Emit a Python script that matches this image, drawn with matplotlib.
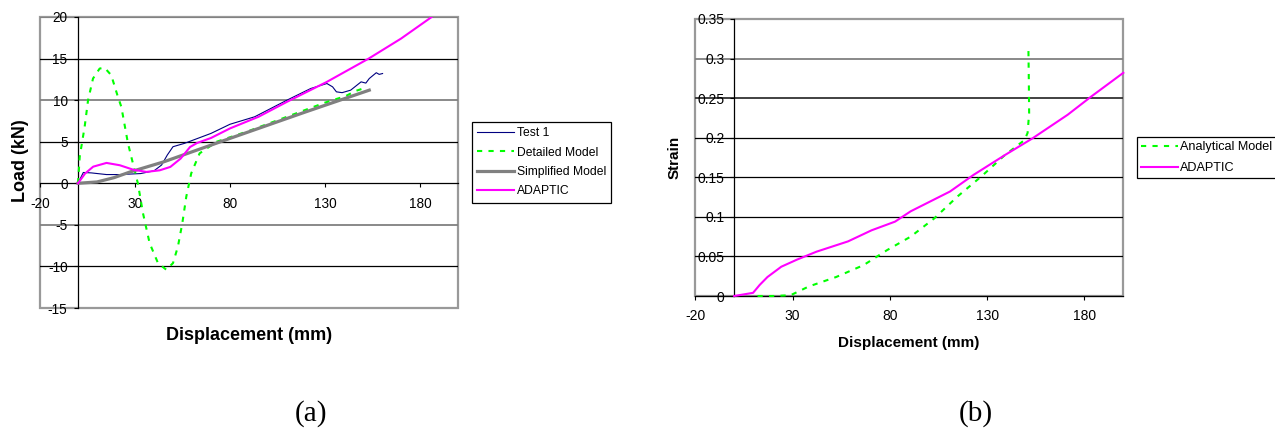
import numpy as np
import matplotlib
matplotlib.use("Agg")
import matplotlib.pyplot as plt
import matplotlib.patches as mpatches

plt.rcParams['font.family'] = ['Liberation Sans', 'DejaVu Sans']
plt.rcParams['axes.unicode_minus'] = False

################################
# (a) load vs displacement
test_x = [0, 2.8, 7, 15, 22, 33, 40, 44, 47, 50, 56, 63, 70, 80, 93, 110, 122.5,
          131, 134, 136, 139, 143.5, 149, 151.5, 153.3, 157, 158.5, 160.3]
test_y = [0, 1.3, 1.25, 1.05, 1.05, 1.17, 1.5, 2.2, 3.4, 4.4, 4.8, 5.4, 6.0, 7.1,
          8.0, 10.0, 11.4, 12.0, 11.6, 11.0, 10.9, 11.2, 12.2, 12.05, 12.6, 13.3, 13.1, 13.2]

detailed_x = [0, 0.9, 3.5, 5.3, 7.9, 11.4, 14, 17.5, 21, 22.8, 26.3, 28.9, 31.5, 34.2,
              37.7, 42.1, 46.5, 50, 52.6, 54.9, 57, 59.6, 64, 73, 90, 110, 130, 141, 146, 151.5]
detailed_y = [0, 3.2, 6.8, 10, 12.6, 13.8, 13.9, 13, 10.4, 9.2, 4.8, 2.4, 0, -3.6,
              -7.2, -9.6, -10.4, -9.6, -7.6, -4.8, -1.6, 1.2, 3.6, 5.0, 6.3, 8.0, 9.7, 10.5, 11.1, 11.5]

simplified_x = [0, 10, 19, 27.5, 45, 80, 120, 153.3]
simplified_y = [0, 0.16, 0.68, 1.37, 2.57, 5.4, 8.6, 11.2]

adaptic_x = [0, 3.7, 8, 15, 22, 29, 36, 43, 48.6, 54, 59, 62.7, 70, 80, 95, 110,
             131, 153, 170, 188]
adaptic_y = [0, 1.17, 2.0, 2.45, 2.17, 1.64, 1.37, 1.56, 1.97, 2.97, 4.37, 4.85, 5.45,
             6.6, 8.0, 9.8, 12.2, 15.0, 17.4, 20.3]

# (b) strain vs displacement
analytical_x = [12, 20, 29, 38.3, 52.4, 66.5, 78.6, 90.7, 102.8, 114.9, 127, 139.1,
                149.2, 150.8, 151.6, 151.4, 151.2]
analytical_y = [0, 0, 0.001, 0.012, 0.024, 0.039, 0.058, 0.075, 0.098, 0.126, 0.151,
                0.178, 0.197, 0.206, 0.231, 0.28, 0.317]

strain_adaptic_x = [0, 9.7, 13.1, 17.1, 24.2, 32.3, 42.3, 58.5, 70.6, 82.7, 90.7,
                    110.9, 123, 139.1, 153.2, 171.4, 183.5, 200]
strain_adaptic_y = [0, 0.004, 0.014, 0.024, 0.037, 0.046, 0.056, 0.069, 0.083, 0.094,
                    0.107, 0.132, 0.153, 0.178, 0.199, 0.229, 0.252, 0.282]

x_ticks = [-20, 30, 80, 130, 180]
load_ticks = [-15, -10, -5, 0, 5, 10, 15, 20]
strain_ticks = [0, 0.05, 0.1, 0.15, 0.2, 0.25, 0.3, 0.35]
################################

W, H = 1275, 430
fig = plt.figure(figsize=(W / 100, H / 100), dpi=100)


def excel_axes(rect, yticks, grid_colors, tick_size, xpad, ypad):
    ax = fig.add_axes(rect)
    ax.set_xlim(-20, 200)
    ax.set_ylim(yticks[0], yticks[-1])
    for v, c in zip(yticks, grid_colors):
        if c is not None:
            ax.axhline(v, color=c, lw=0.9 if c == 'black' else 1.3, zorder=0.5)
    for s in ['top', 'right']:
        ax.spines[s].set_visible(False)
    ax.spines['left'].set_position(('data', 0))
    ax.spines['bottom'].set_position(('data', 0))
    ax.spines['left'].set_linewidth(0.9)
    ax.spines['bottom'].set_linewidth(0.9)
    ax.set_xticks(x_ticks)
    ax.set_yticks(yticks)
    ax.set_yticklabels([f'{v:g}' for v in yticks])
    ax.tick_params(axis='x', direction='out', length=3, width=0.8, labelsize=tick_size, pad=xpad)
    ax.tick_params(axis='y', direction='out', length=3, width=0.8, labelsize=tick_size, pad=ypad)
    ax.add_patch(mpatches.Rectangle((0, 0), 1, 1, transform=ax.transAxes, fill=False,
                                    edgecolor='#999999', lw=1.6, clip_on=False, zorder=0.4))
    return ax


# ---- (a)
axa = excel_axes([40 / W, 1 - 308 / H, 418 / W, 291 / H], load_ticks,
                 [None, 'black', '#808080', None, 'black', '#808080', 'black', '#808080'],
                 9.8, 7, 4.5)
axa.plot(test_x, test_y, color='#000080', lw=0.8, label='Test 1', zorder=3)
axa.plot(detailed_x, detailed_y, color='#00ff00', lw=1.5, dashes=(2.5, 3),
         label='Detailed Model', zorder=3)
axa.plot(simplified_x, simplified_y, color='#808080', lw=2.3, label='Simplified Model', zorder=3)
axa.plot(adaptic_x, adaptic_y, color='#ff00ff', lw=1.5, label='ADAPTIC', zorder=3)

fig.text(20.5 / W, 1 - 161 / H, 'Load (kN)', rotation=90, ha='center', va='center',
         fontsize=13, fontweight='bold')
fig.text(249.5 / W, 1 - 336 / H, 'Displacement (mm)', ha='center', va='center',
         fontsize=13, fontweight='bold')

leg = axa.legend(loc='upper left', bbox_to_anchor=(472 / W, 1 - 122 / H),
                 bbox_transform=fig.transFigure, borderaxespad=0, fontsize=8.7,
                 handlelength=3.0, handletextpad=0.25, borderpad=0.45, labelspacing=0.6,
                 fancybox=False, framealpha=1, edgecolor='black')
leg.get_frame().set_linewidth(0.9)

# ---- (b)
axb = excel_axes([695.3 / W, 1 - 296 / H, 428 / W, 277 / H], strain_ticks,
                 [None, 'black', 'black', 'black', 'black', '#333333', '#808080', None],
                 10, 6, 4)
axb.plot(analytical_x, analytical_y, color='#00ff00', lw=1.5, dashes=(2.5, 3),
         label='Analytical Model', zorder=3, clip_on=False)
axb.plot(strain_adaptic_x, strain_adaptic_y, color='#ff00ff', lw=1.5, label='ADAPTIC',
         zorder=3, clip_on=False)

fig.text(675 / W, 1 - 157 / H, 'Strain', rotation=90, ha='center', va='center',
         fontsize=11, fontweight='bold')
fig.text(908.6 / W, 1 - 343 / H, 'Displacement (mm)', ha='center', va='center',
         fontsize=11, fontweight='bold')

leg2 = axb.legend(loc='upper left', bbox_to_anchor=(1136.7 / W, 1 - 136.7 / H),
                  bbox_transform=fig.transFigure, borderaxespad=0, fontsize=9.1,
                  handlelength=2.9, handletextpad=0.2, borderpad=0.35, labelspacing=0.7,
                  fancybox=False, framealpha=1, edgecolor='black')
leg2.get_frame().set_linewidth(0.9)

# captions
fig.text(310.5 / W, 1 - 414 / H, '(a)', ha='center', va='center', fontsize=21,
         family=['Liberation Serif', 'DejaVu Serif'])
fig.text(975.5 / W, 1 - 414 / H, '(b)', ha='center', va='center', fontsize=21,
         family=['Liberation Serif', 'DejaVu Serif'])

fig.savefig('out.png', dpi=100)
